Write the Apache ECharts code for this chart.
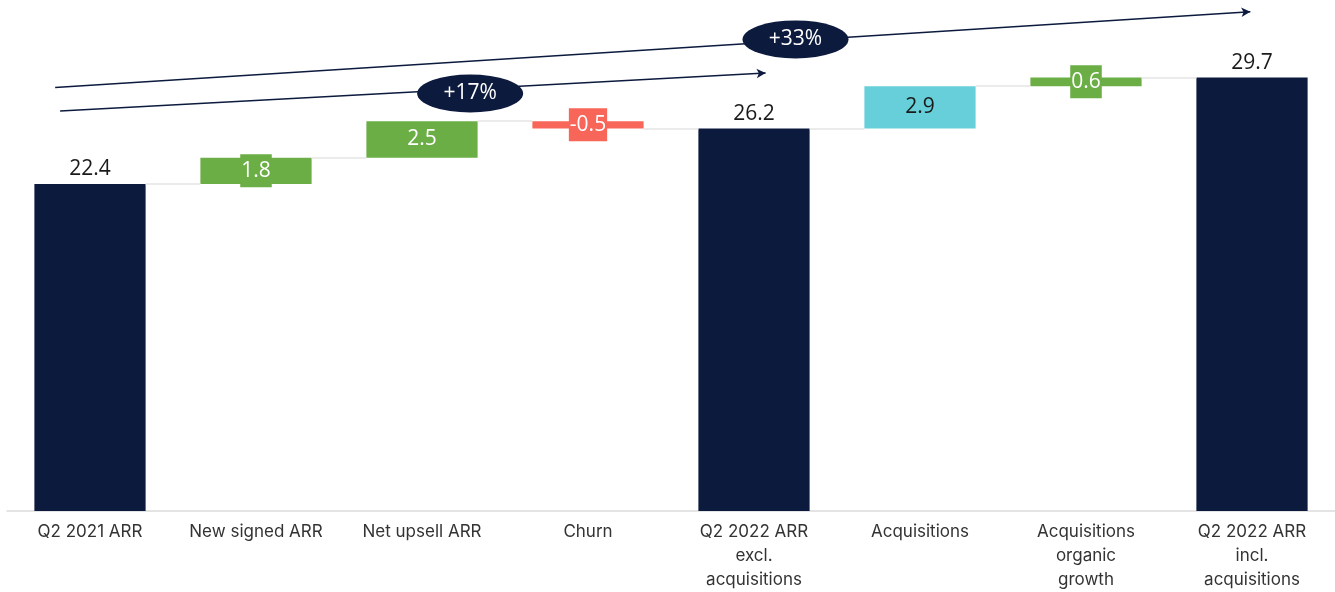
<!DOCTYPE html>
<html>
<head>
<meta charset="utf-8">
<script src="https://cdn.jsdelivr.net/npm/echarts@6/dist/echarts.min.js"></script>
<style>
  html, body { margin: 0; padding: 0; background: #fff; }
  #chart { width: 1335px; height: 592px; }
</style>
</head>
<body>
<div id="chart"></div>
<script>
// categories and waterfall steps
var categories = ['Q2 2021 ARR', 'New signed ARR', 'Net upsell ARR', 'Churn',
  'Q2 2022 ARR\nexcl.\nacquisitions', 'Acquisitions', 'Acquisitions\norganic\ngrowth',
  'Q2 2022 ARR\nincl.\nacquisitions'];
var stepValues = [22.4, 1.8, 2.5, -0.5, 26.2, 2.9, 0.6, 29.7];
var isTotal = [true, false, false, false, true, false, false, true];
var stepKinds = ['total', 'up', 'up', 'down', 'total', 'acq', 'up', 'total'];

// growth annotations (x in category index units, y in ARR units)
var growthLabels = ['+17%', '+33%'];
var growthFrom = [[-0.18, 27.4], [-0.21, 29.0]];
var growthTo = [[4.07, 30.0], [6.99, 34.2]];
var growthBadge = [[2.29, 28.6], [4.25, 32.3]];

var colors = { total: '#0c1a3d', up: '#6aae45', down: '#f8665a', acq: '#66cfd9' };

// build base + visible parts of waterfall
var baseData = [], barData = [], levels = [];
var running = 0;
for (var i = 0; i < stepValues.length; i++) {
  var v = stepValues[i];
  if (isTotal[i]) {
    baseData.push(0);
    running = v;
  } else if (v >= 0) {
    baseData.push(running);
    running = +(running + v).toFixed(1);
  } else {
    running = +(running + v).toFixed(1);
    baseData.push(running);
  }
  levels.push(running);
  var k = stepKinds[i];
  var item = {
    value: Math.abs(v),
    itemStyle: { color: colors[k] }
  };
  if (isTotal[i]) {
    item.label = {
      show: true, position: 'top', distance: 4,
      color: '#1a1a1a', fontSize: 21, fontFamily: 'Open Sans',
      formatter: String(v.toFixed(1))
    };
  } else {
    item.label = {
      show: true, position: 'inside',
      color: k === 'acq' ? '#1a1a1a' : '#ffffff',
      fontSize: 21, fontFamily: 'Open Sans', lineHeight: 27,
      backgroundColor: colors[k], padding: [3, 1],
      formatter: String(v.toFixed(1))
    };
  }
  barData.push(item);
}

// connector lines from the end level of each bar to the next one
var halfBar = 0.335;
var connectors = [];
for (var j = 0; j < stepValues.length - 1; j++) {
  var lvl = levels[j];
  connectors.push([{ coord: [j + halfBar, lvl] }, { coord: [j + 1 - halfBar, lvl] }]);
}

var arrows = [];
for (var a = 0; a < growthLabels.length; a++) {
  arrows.push([{ coord: growthFrom[a] }, { coord: growthTo[a] }]);
}
var badges = growthBadge.map(function (p, idx) {
  return { name: growthLabels[idx], value: p };
});

var myChart = echarts.init(document.getElementById('chart'));
var option = {
  animation: false,
  grid: { left: 7, right: 0, top: 0, bottom: 77 },
  xAxis: [{
    type: 'category',
    data: categories,
    axisLine: { lineStyle: { color: '#dcdcdc', width: 1.5 } },
    axisTick: { show: false },
    axisLabel: {
      interval: 0, margin: 9, color: '#333', fontSize: 17,
      fontFamily: 'Inter', lineHeight: 24
    }
  }, {
    type: 'value', min: -0.5, max: 7.5, show: false
  }],
  yAxis: { type: 'value', min: 0, max: 35, show: false, splitLine: { show: false } },
  series: [{
    type: 'bar', stack: 'w', data: baseData, silent: true,
    itemStyle: { color: 'transparent' }, barWidth: '67%'
  }, {
    type: 'bar', stack: 'w', data: barData, barWidth: '67%', z: 3
  }, {
    type: 'line', xAxisIndex: 1, data: [], z: 1, silent: true,
    markLine: {
      silent: true, symbol: ['none', 'none'], label: { show: false },
      lineStyle: { color: '#e4e4e4', width: 1.5, type: 'solid' },
      data: connectors
    }
  }, {
    type: 'line', xAxisIndex: 1, data: [], z: 4, silent: true,
    markLine: {
      silent: true, symbol: ['none', 'arrow'], symbolSize: [7, 9],
      label: { show: false },
      lineStyle: { color: '#0c1a3d', width: 1.5, type: 'solid' },
      data: arrows
    }
  }, {
    type: 'scatter', xAxisIndex: 1, data: badges, z: 5, silent: true,
    symbol: 'circle', symbolSize: [106, 38],
    itemStyle: { color: '#0c1a3d', opacity: 1 },
    label: {
      show: true, position: 'inside', color: '#fff', fontSize: 21,
      fontFamily: 'Open Sans', formatter: '{b}'
    }
  }]
};
myChart.setOption(option, true);
</script>
</body>
</html>
